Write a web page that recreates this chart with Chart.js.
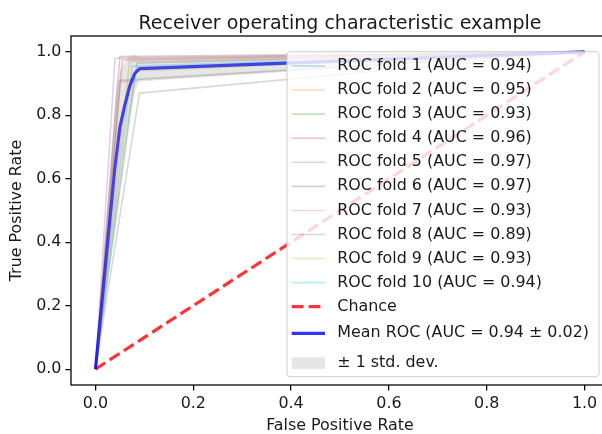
<!DOCTYPE html>
<html><head><meta charset="utf-8">
<script src="https://cdn.jsdelivr.net/npm/chart.js@4"></script>
<style>html,body{margin:0;padding:0;overflow:hidden;background:#fff;width:602px;height:434px}canvas{display:block}</style>
</head><body><canvas id="c" width="612" height="434"></canvas>
<script>
// ---- data ----
const foldNames = [1, 2, 3, 4, 5, 6, 7, 8, 9, 10];
const foldAuc = [0.94, 0.95, 0.93, 0.96, 0.97, 0.97, 0.93, 0.89, 0.93, 0.94];
const foldFpr = [0.085, 0.07, 0.05, 0.055, 0.04, 0.05, 0.045, 0.09, 0.08, 0.075];
const foldTpr = [0.965, 0.97, 0.91, 0.975, 0.98, 0.985, 0.905, 0.87, 0.94, 0.955];
const chanceFpr = [0, 1];
const chanceTpr = [0, 1];
const meanFpr = [0, 0.02, 0.04, 0.05, 0.06, 0.07, 0.08, 0.09, 1.0];
const meanTpr = [0, 0.319, 0.638, 0.763, 0.832, 0.892, 0.931, 0.947, 1.0];
const stdUpper = [0, 0.410, 0.819, 0.941, 0.968, 0.987, 0.991, 0.983, 1.0];
const stdLower = [0, 0.228, 0.457, 0.585, 0.696, 0.797, 0.871, 0.911, 1.0];
const meanAuc = 0.94;
const stdAuc = 0.02;
const xTicks = [0.0, 0.2, 0.4, 0.6, 0.8, 1.0];
const yTicks = [0.0, 0.2, 0.4, 0.6, 0.8, 1.0];
const titleText = 'Receiver operating characteristic example';
const xTitle = 'False Positive Rate';
const yTitle = 'True Positive Rate';

// ---- style ----
const tab10 = ['31,119,180','255,127,14','44,160,44','214,39,40','148,103,189','140,86,75','227,119,194','127,127,127','188,189,34','23,190,207'];
const FONT = 'DejaVu Sans';
const FS = 15.9;
const TXT = '#1a1a1a';
const pts = (xs, ys) => xs.map((x, i) => ({x: x, y: ys[i]}));

const datasets = [];
foldNames.forEach((n, i) => {
  datasets.push({
    label: 'ROC fold ' + n + ' (AUC = ' + foldAuc[i].toFixed(2) + ')',
    data: [{x: 0, y: 0}, {x: foldFpr[i], y: foldTpr[i]}, {x: 1, y: 1}],
    borderColor: 'rgba(' + tab10[i] + ',0.3)', borderWidth: 1.59,
    pointRadius: 0, fill: false, order: 20 - i, borderJoinStyle: 'round',
    lg: {type: 'line', color: 'rgba(' + tab10[i] + ',0.3)', w: 1.59}
  });
});
datasets.push({
  label: 'Chance', data: pts(chanceFpr, chanceTpr),
  borderColor: 'rgba(255,0,0,0.8)', borderWidth: 3.18, borderDash: [11.8, 5.1],
  pointRadius: 0, fill: false, order: 3,
  lg: {type: 'line', color: 'rgba(255,0,0,0.8)', w: 3.18, dash: [11.8, 5.1]}
});
datasets.push({
  label: 'Mean ROC (AUC = ' + meanAuc.toFixed(2) + ' \u00b1 ' + stdAuc.toFixed(2) + ')',
  data: pts(meanFpr, meanTpr),
  borderColor: 'rgba(0,0,255,0.8)', borderWidth: 3.18, borderJoinStyle: 'round',
  pointRadius: 0, fill: false, order: 2,
  lg: {type: 'line', color: 'rgba(0,0,255,0.8)', w: 3.18}
});
datasets.push({
  label: '\u00b1 1 std. dev.', data: pts(meanFpr, stdUpper),
  borderColor: 'rgba(0,0,0,0)', borderWidth: 1, backgroundColor: 'rgba(128,128,128,0.2)',
  pointRadius: 0, fill: '+1', order: 1,
  lg: {type: 'patch', color: 'rgba(128,128,128,0.2)'}
});
datasets.push({
  data: pts(meanFpr, stdLower),
  borderColor: 'rgba(0,0,0,0)', borderWidth: 1, pointRadius: 0, fill: false, order: 1
});

const framePlugin = {
  id: 'frame',
  afterDraw(chart) {
    const ctx = chart.ctx, a = chart.chartArea;
    ctx.save();
    // spines
    ctx.strokeStyle = '#000'; ctx.lineWidth = 1.27;
    ctx.strokeRect(a.left, a.top, a.right - a.left, a.bottom - a.top);
    // title
    ctx.fillStyle = TXT; ctx.font = '19px "' + FONT + '"';
    ctx.textAlign = 'center'; ctx.textBaseline = 'alphabetic';
    ctx.fillText(titleText, (a.left + a.right) / 2, 29);
    // legend
    const L = {x: 287, y: 51.7, w: 312, h: 325, r: 3.5};
    ctx.beginPath();
    ctx.moveTo(L.x + L.r, L.y);
    ctx.arcTo(L.x + L.w, L.y, L.x + L.w, L.y + L.h, L.r);
    ctx.arcTo(L.x + L.w, L.y + L.h, L.x, L.y + L.h, L.r);
    ctx.arcTo(L.x, L.y + L.h, L.x, L.y, L.r);
    ctx.arcTo(L.x, L.y, L.x + L.w, L.y, L.r);
    ctx.closePath();
    ctx.fillStyle = 'rgba(255,255,255,0.8)'; ctx.fill();
    ctx.strokeStyle = 'rgba(204,204,204,0.8)'; ctx.lineWidth = 1.27; ctx.stroke();
    const items = chart.data.datasets.filter(d => d.label);
    const rowY = (i) => i <= 10 ? 66 + 24.07 * i : (i === 11 ? 333.3 : 363.0);
    ctx.textAlign = 'left'; ctx.textBaseline = 'middle';
    ctx.font = FS + 'px "' + FONT + '"';
    items.forEach((d, i) => {
      const y = rowY(i);
      const g = d.lg;
      if (g.type === 'line') {
        ctx.beginPath(); ctx.setLineDash(g.dash || []);
        ctx.strokeStyle = g.color; ctx.lineWidth = g.w; ctx.lineCap = 'butt';
        ctx.moveTo(291.7, y); ctx.lineTo(325, y); ctx.stroke();
        ctx.setLineDash([]);
      } else {
        ctx.fillStyle = g.color; ctx.fillRect(291.7, y - 5.8, 33.3, 11.6);
      }
      ctx.fillStyle = TXT;
      ctx.fillText(d.label, 337.3, y);
    });
    ctx.restore();
  }
};

const axisCommon = (ticksArr) => ({
  type: 'linear', min: -0.05, max: 1.05,
  afterBuildTicks(s) { s.ticks = ticksArr.map(v => ({value: v})); },
  ticks: {font: {family: FONT, size: FS}, color: TXT, padding: 4, maxRotation: 0, autoSkip: false,
          callback: v => Number(v).toFixed(1)},
  grid: {drawOnChartArea: false, drawTicks: true, tickLength: 5.6, color: '#000', lineWidth: 1.27},
  border: {display: false}
});

const xAxis = Object.assign(axisCommon(xTicks), {
  afterFit(s) { s.height = 49; },
  title: {display: true, text: xTitle, color: TXT, font: {family: FONT, size: FS, lineHeight: 1}, padding: {top: 0, bottom: 0}}
});
const yAxis = Object.assign(axisCommon(yTicks), {
  afterFit(s) { s.width = 71; },
  title: {display: true, text: yTitle, color: TXT, font: {family: FONT, size: FS, lineHeight: 1}, padding: {top: 9, bottom: 0}}
});

new Chart(document.getElementById('c'), {
  type: 'line',
  data: {datasets: datasets},
  options: {
    responsive: false, animation: false, devicePixelRatio: 1,
    layout: {padding: {left: 0, top: 36, right: 3, bottom: 0}},
    plugins: {legend: {display: false}, title: {display: false}, tooltip: {enabled: false}},
    scales: {x: xAxis, y: yAxis}
  },
  plugins: [framePlugin]
});
</script>
</body></html>
